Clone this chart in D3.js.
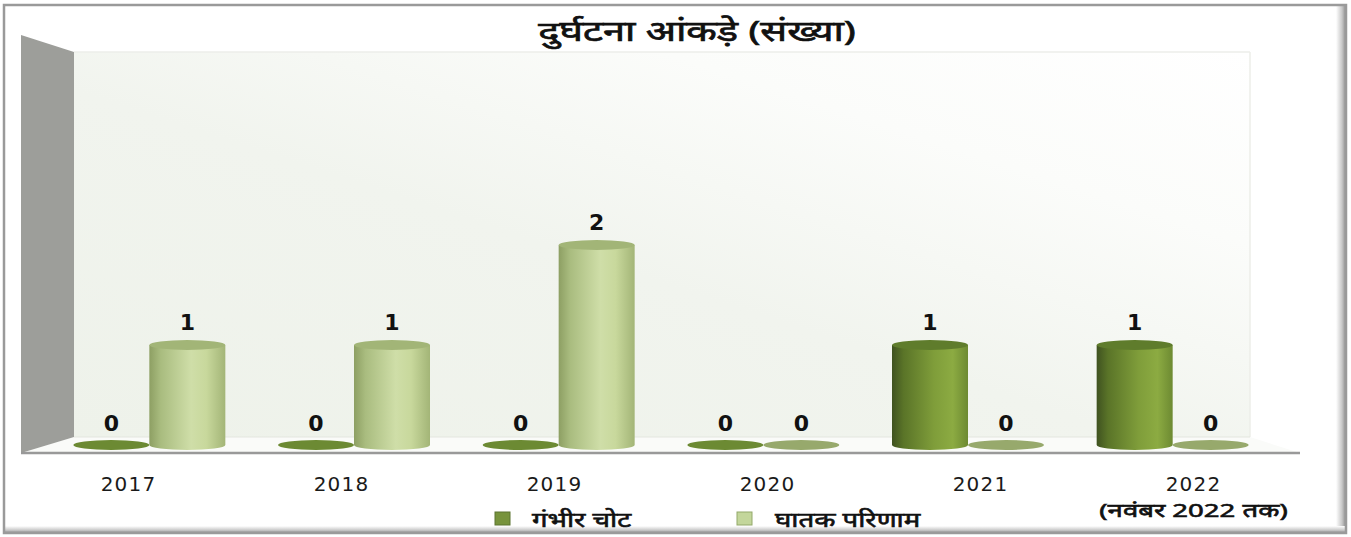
<!DOCTYPE html>
<html><head><meta charset="utf-8">
<script src="https://cdn.jsdelivr.net/npm/d3@7"></script>
<style>html,body{margin:0;padding:0;background:#fff;}svg{display:block;}</style>
</head><body>
<script>
const years = ["2017","2018","2019","2020","2021","2022"];
const yearSub = ["","","","","","(नवंबर 2022 तक)"];
const seriesNames = ["गंभीर चोट","घातक परिणाम"];
const seriousInjury = [0,0,0,0,1,1];
const fatal = [1,1,2,0,0,0];
const title = "दुर्घटना आंकड़े (संख्या)";

const W = 1351, H = 537;
const svg = d3.select("body").append("svg").attr("width", W).attr("height", H);
const defs = svg.append("defs");

function hGrad(id, stops){
  const g = defs.append("linearGradient").attr("id", id).attr("x1","0").attr("x2","1").attr("y1","0").attr("y2","0");
  stops.forEach(s=>g.append("stop").attr("offset", s[0]).attr("stop-color", s[1]));
}
hGrad("cylDark", [[0,"#3f5220"],[0.15,"#5a7428"],[0.55,"#7f9d3a"],[0.8,"#8cab42"],[1,"#6d8a32"]]);
hGrad("cylLight", [[0,"#8d9f63"],[0.15,"#a9bc7f"],[0.55,"#cfdea8"],[0.75,"#c8d89c"],[1,"#a3b577"]]);
const bg = defs.append("linearGradient").attr("id","wallBg").attr("x1","0").attr("y1","1").attr("x2","1").attr("y2","0");
bg.append("stop").attr("offset",0).attr("stop-color","#eef2ea");
bg.append("stop").attr("offset",0.45).attr("stop-color","#f1f4ee");
bg.append("stop").attr("offset",0.75).attr("stop-color","#fbfcfa");
bg.append("stop").attr("offset",1).attr("stop-color","#ffffff");
const sr = defs.append("linearGradient").attr("id","shadR").attr("x1","0").attr("x2","1");
sr.append("stop").attr("offset",0).attr("stop-color","#ffffff");
sr.append("stop").attr("offset",0.6).attr("stop-color","#c8c8c8");
sr.append("stop").attr("offset",1).attr("stop-color","#8a8a8a");
const sb = defs.append("linearGradient").attr("id","shadB").attr("x1","0").attr("x2","0").attr("y1","0").attr("y2","1");
sb.append("stop").attr("offset",0).attr("stop-color","#ffffff");
sb.append("stop").attr("offset",0.6).attr("stop-color","#c8c8c8");
sb.append("stop").attr("offset",1).attr("stop-color","#8a8a8a");

// frame
svg.append("rect").attr("x",0).attr("y",0).attr("width",W).attr("height",H).attr("fill","#fff");
svg.append("rect").attr("x",1336).attr("y",6).attr("width",10).attr("height",527).attr("fill","url(#shadR)");
svg.append("rect").attr("x",5).attr("y",526).attr("width",1341).attr("height",7).attr("fill","url(#shadB)");
svg.append("rect").attr("x",4).attr("y",5).attr("width",1342).attr("height",528)
  .attr("fill","none").attr("stroke","#9a9a9a").attr("stroke-width",2.5);

// scales
const y = d3.scaleLinear().domain([0,4]).range([445,45]);
const x0 = d3.scaleBand().domain(years).range([47,1275]).padding(0);
const x1 = d3.scaleBand().domain(seriesNames).range([x0.bandwidth()/2-76, x0.bandwidth()/2+76]).padding(0);
const xl = d3.scaleBand().domain(years).range([22,1300]).padding(0);

// walls
const backL = 74, backR = 1250, backTop = 52, backBot = 437, frontL = 21, frontR = 1300, frontBot = 453;
svg.append("rect").attr("x",backL).attr("y",backTop).attr("width",backR-backL).attr("height",backBot-backTop).attr("fill","url(#wallBg)");
svg.append("line").attr("x1",backR).attr("x2",backR).attr("y1",backTop).attr("y2",backBot).attr("stroke","#eceee9").attr("stroke-width",1.5);
svg.append("line").attr("x1",backL).attr("x2",backR).attr("y1",backTop).attr("y2",backTop).attr("stroke","#eceeea").attr("stroke-width",1.5);
svg.append("path").attr("d",`M${backL},${backBot}L${backR},${backBot}L${frontR},${frontBot}L${frontL},${frontBot}Z`).attr("fill","#fafbf9");
svg.append("line").attr("x1",backL).attr("x2",backR).attr("y1",backBot).attr("y2",backBot).attr("stroke","#e3e6df").attr("stroke-width",1);
svg.append("path").attr("d",`M${frontL},35L${backL},${backTop}L${backL},${backBot}L${frontL},${frontBot}Z`).attr("fill","#9d9e9a");
svg.append("line").attr("x1",frontL).attr("x2",frontR).attr("y1",frontBot).attr("y2",frontBot).attr("stroke","#999").attr("stroke-width",2.5);

// bars
const data = [];
years.forEach((yr,i)=>{
  data.push({yr, s:seriesNames[0], v:seriousInjury[i], k:0});
  data.push({yr, s:seriesNames[1], v:fatal[i], k:1});
});
const ry = 5;
const g = svg.append("g");
data.forEach(d=>{
  const xl0 = x0(d.yr) + x1(d.s);
  const w = x1.bandwidth();
  const cx = xl0 + w/2;
  const yb = y(0), yt = y(d.v);
  if (d.v === 0){
    g.append("ellipse").attr("cx",cx).attr("cy",yb).attr("rx",w/2).attr("ry",ry)
      .attr("fill", d.k===0 ? "#6c8a33" : "#97a96c");
  } else {
    g.append("path").attr("d",`M${xl0},${yt}L${xl0},${yb}A${w/2},${ry} 0 0 0 ${xl0+w},${yb}L${xl0+w},${yt}Z`)
      .attr("fill", d.k===0 ? "url(#cylDark)" : "url(#cylLight)");
    g.append("ellipse").attr("cx",cx).attr("cy",yt).attr("rx",w/2).attr("ry",ry)
      .attr("fill", d.k===0 ? "#5f7c2c" : "#a2b577");
  }
  g.append("text").attr("x",cx).attr("y", yt - (d.v===0?14:15))
    .attr("text-anchor","middle").attr("font-family","DejaVu Sans").attr("font-weight","bold")
    .attr("font-size",22).attr("fill","#111").text(d.v);
});

// helper: horizontally stretched text (keeps Devanagari shaping intact)
function stretchText(x, yy, txt, size, sx, anchor, weight, sw){
  const t = svg.append("g").attr("transform",`translate(${x},${yy}) scale(${sx},1)`)
    .append("text").attr("x",0).attr("y",0).attr("text-anchor",anchor)
    .attr("font-family","Noto Sans, DejaVu Sans").attr("font-weight",weight).attr("font-size",size)
    .attr("fill","#111").attr("stroke", sw ? "#111" : "none").attr("stroke-width", sw || 0).text(txt);
  return t;
}

// x labels
years.forEach((yr,i)=>{
  const cx = xl(yr) + xl.bandwidth()/2;
  svg.append("text").attr("x",cx).attr("y",491).attr("text-anchor","middle")
    .attr("font-family","DejaVu Sans").attr("font-size",20).attr("letter-spacing",1.2).attr("fill","#1a1a1a").text(yr);
  if (yearSub[i]) stretchText(cx, 517, yearSub[i], 19, 1.45, "middle", "normal", 0.6);
});

// title
stretchText(697, 41, title, 28, 1.42, "middle", "normal", 0.7);

// legend
const legX = [495, 737], legTx = [532, 775];
const legColors = ["#77933c","#c3d69b"];
const legStroke = ["#5d7430","#93a96a"];
seriesNames.forEach((s,i)=>{
  svg.append("rect").attr("x",legX[i]).attr("y",512).attr("width",15).attr("height",13).attr("fill",legColors[i]).attr("stroke",legStroke[i]).attr("stroke-width",1);
  stretchText(legTx[i], 527, s, 20, 1.38, "start", "normal", 0.6);
});
</script>
</body></html>
